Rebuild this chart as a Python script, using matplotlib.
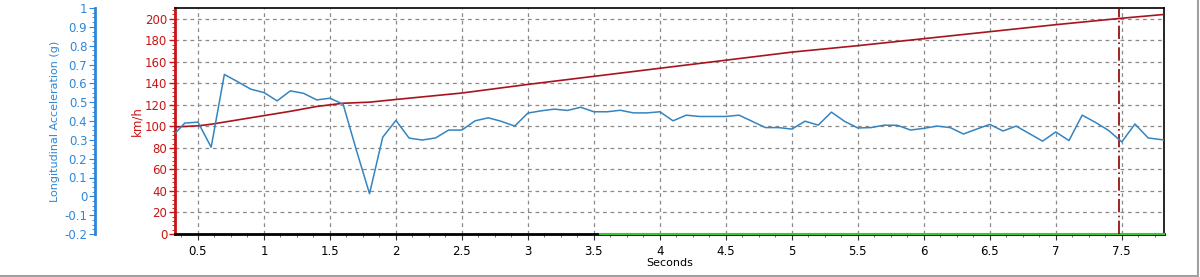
import matplotlib
matplotlib.use('Agg')
import matplotlib.pyplot as plt
from matplotlib.ticker import MultipleLocator, FormatStrFormatter, AutoMinorLocator
from matplotlib.lines import Line2D

plt.rcParams['font.family'] = 'DejaVu Sans'
plt.rcParams['axes.unicode_minus'] = False

# Longitudinal acceleration (g), sampled every 0.1 s
accel_t = [0.33, 0.4, 0.5, 0.6, 0.7, 0.8, 0.9, 1.0, 1.1, 1.2, 1.3, 1.4, 1.5, 1.6,
           1.7, 1.8, 1.9, 2.0, 2.1, 2.2, 2.3, 2.4, 2.5, 2.6, 2.7, 2.8, 2.9, 3.0,
           3.1, 3.2, 3.3, 3.4, 3.5, 3.6, 3.7, 3.8, 3.9, 4.0, 4.1, 4.2, 4.3, 4.4,
           4.5, 4.6, 4.7, 4.8, 4.9, 5.0, 5.1, 5.2, 5.3, 5.4, 5.5, 5.6, 5.7, 5.8,
           5.9, 6.0, 6.1, 6.2, 6.3, 6.4, 6.5, 6.6, 6.7, 6.8, 6.9, 7.0, 7.1, 7.2,
           7.3, 7.4, 7.5, 7.6, 7.7, 7.8, 7.82]
accel_g = [0.337, 0.389, 0.394, 0.261, 0.647, 0.609, 0.569, 0.551, 0.507, 0.560,
           0.547, 0.512, 0.521, 0.489, 0.246, 0.014, 0.314, 0.403, 0.309, 0.299,
           0.310, 0.352, 0.352, 0.401, 0.417, 0.398, 0.373, 0.442, 0.454, 0.463,
           0.456, 0.473, 0.449, 0.449, 0.457, 0.443, 0.443, 0.449, 0.401, 0.431,
           0.424, 0.424, 0.424, 0.431, 0.398, 0.365, 0.365, 0.357, 0.399, 0.378,
           0.447, 0.398, 0.363, 0.365, 0.378, 0.377, 0.352, 0.361, 0.373, 0.365,
           0.331, 0.357, 0.382, 0.347, 0.373, 0.333, 0.293, 0.342, 0.296, 0.431,
           0.393, 0.350, 0.289, 0.384, 0.310, 0.301, 0.300]

# Speed (km/h)
speed_t = [0.33, 0.5, 0.6, 0.8, 1.0, 1.2, 1.4, 1.6, 1.8, 2.0, 2.5, 3.0, 3.5, 4.0,
           4.5, 5.0, 5.5, 6.0, 6.5, 7.0, 7.5, 7.82]
speed_kmh = [99.5, 100.5, 102, 106, 110, 114, 118.5, 121.5, 122.5, 125, 131, 139,
             146.5, 154, 161.5, 169, 175, 181.5, 188, 194.5, 200.5, 204]

# third channel sitting at zero from 3.55 s
flat_t = [3.55, 7.82]
flat_v = [0, 0]

cursor_t = 7.48

W, H = 1200, 277
fig = plt.figure(figsize=(W / 100, H / 100), dpi=100)
fig.patch.set_facecolor('white')

left, right, top, bottom = 175, 1164, 8, 234
ax = fig.add_axes([left / W, 1 - bottom / H, (right - left) / W, (bottom - top) / H])

red = '#c81414'
blue = '#2f86d8'

ax.plot(speed_t, speed_kmh, color='#a8141e', lw=1.2, zorder=3)
ax.plot(flat_t, flat_v, color='#33cc33', lw=1.5, zorder=4, clip_on=False)
ax.axvline(cursor_t, color='#8b0000', lw=1.2, ls=(0, (8, 2, 1, 2)), zorder=5)

ax.set_xlim(0.326, 7.82)
ax.set_ylim(0, 210)
ax.xaxis.set_major_locator(MultipleLocator(0.5))
ax.xaxis.set_minor_locator(AutoMinorLocator(4))
ax.xaxis.set_major_formatter(FormatStrFormatter('%g'))
ax.yaxis.set_major_locator(MultipleLocator(20))
ax.yaxis.set_minor_locator(AutoMinorLocator(5))
ax.grid(True, which='major', color='#8a8a8a', ls=(0, (3, 3)), lw=0.9)
ax.tick_params(axis='x', which='major', length=4, labelsize=8.5, colors='#333333', pad=4)
ax.tick_params(axis='x', which='minor', length=2, color='#555555')
ax.tick_params(axis='y', which='major', length=4, labelsize=8.5, colors=red, width=1, pad=1.5)
ax.tick_params(axis='y', which='minor', length=2, color=red)
for lbl in ax.get_xticklabels():
    lbl.set_color('black')
ax.set_xlabel('Seconds', fontsize=8, labelpad=0)
ax.set_ylabel('km/h', fontsize=8.5, color=red, labelpad=1)

ax.spines['left'].set_color(red)
ax.spines['left'].set_linewidth(2)
ax.spines['bottom'].set_linewidth(2)
ax.spines['top'].set_linewidth(1.2)
ax.spines['right'].set_linewidth(1.2)

# acceleration axis, offset to the left
ax2 = ax.twinx()
ax2.plot(accel_t, accel_g, color='#3484c0', lw=1.1, zorder=6)
ax2.set_ylim(-0.2, 1.0)
ax2.yaxis.set_ticks_position('left')
ax2.yaxis.set_label_position('left')
ax2.spines['left'].set_position(('axes', (95 - left) / (right - left)))
ax2.spines['left'].set_color(blue)
ax2.spines['left'].set_linewidth(2)
for s in ['right', 'top', 'bottom']:
    ax2.spines[s].set_visible(False)
ax2.yaxis.set_major_locator(MultipleLocator(0.1))
ax2.yaxis.set_minor_locator(AutoMinorLocator(4))
ax2.yaxis.set_major_formatter(FormatStrFormatter('%g'))
ax2.tick_params(axis='y', which='major', length=4, labelsize=8.5, colors=blue, pad=1.5)
ax2.tick_params(axis='y', which='minor', length=2, color=blue)
ax2.set_ylabel('Longitudinal Acceleration (g)', fontsize=8, color=blue, labelpad=3)

# outer window frame
fig.add_artist(Line2D([0, 1197.5 / W], [1 - 275.5 / H] * 2, transform=fig.transFigure,
                      color='#a0a0a0', lw=1.5))
fig.add_artist(Line2D([1197.5 / W] * 2, [1 - 275.5 / H, 1], transform=fig.transFigure,
                      color='#a0a0a0', lw=1.5))

fig.savefig('out.png', dpi=100, facecolor='white')
